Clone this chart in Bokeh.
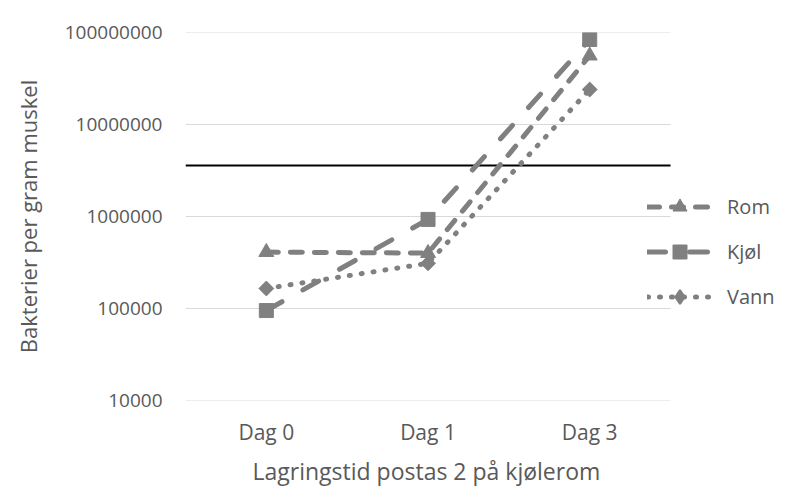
import numpy as np
from bokeh.plotting import figure
from bokeh.models import (Range1d, Legend, LegendItem, FixedTicker,
                          NumeralTickFormatter, Title)
from bokeh.embed import file_html
from bokeh.resources import INLINE

# ---- data ----
categories = ["Dag 0", "Dag 1", "Dag 3"]
rom = [410000, 400000, 56000000]
kjol = [95000, 930000, 84000000]
vann = [165000, 310000, 24000000]
series_names = ["Rom", "Kjøl", "Vann"]
y_ticks = [10000, 100000, 1000000, 10000000, 100000000]
threshold = 3580000
x_title = "Lagringstid postas 2 på kjølerom"
y_title = "Bakterier per gram muskel"

FONT = "Open Sans"
TXT = "#595959"
GREY = "#808080"
GRID = "#d9d9d9"

# category slots: centre of slot i is i + 0.5; extra room on the right for the legend
n = len(categories)
xpos = [i + 0.5 for i in range(n)]
legend_room = 0.711

p = figure(x_range=Range1d(0, n + legend_room),
           y_axis_type="log", y_range=(y_ticks[0], y_ticks[-1]),
           width=792, height=498,
           min_border_left=185, min_border_right=7,
           min_border_top=32, min_border_bottom=98,
           output_backend="svg", toolbar_location=None)
p.outline_line_color = None
p.background_fill_color = "white"
p.border_fill_color = "white"

# grid drawn only across the category area
p.xgrid.grid_line_color = None
p.ygrid.grid_line_color = None
p.segment(x0=[0] * len(y_ticks), x1=[n] * len(y_ticks), y0=y_ticks, y1=y_ticks,
          line_color=GRID, line_width=1)

# y axis
p.yaxis.ticker = FixedTicker(ticks=y_ticks, minor_ticks=[])
p.yaxis.formatter = NumeralTickFormatter(format="0")
p.yaxis.axis_line_color = None
p.yaxis.major_tick_line_color = None
p.yaxis.minor_tick_line_color = None
p.yaxis.major_tick_out = 0
p.yaxis.major_tick_in = 0
p.yaxis.major_label_standoff = 23
p.yaxis.axis_label = y_title
p.yaxis.axis_label_standoff = 19

# x axis
p.xaxis.ticker = FixedTicker(ticks=xpos, minor_ticks=[])
p.xaxis.major_label_overrides = {x: c for x, c in zip(xpos, categories)}
p.xaxis.axis_line_color = None
p.xaxis.major_tick_line_color = None
p.xaxis.minor_tick_line_color = None
p.xaxis.major_tick_out = 0
p.xaxis.major_tick_in = 0
p.xaxis.major_label_standoff = 17

for ax in (p.xaxis, p.yaxis):
    ax.major_label_text_font = FONT
    ax.axis_label_text_font = FONT
    ax.major_label_text_color = TXT
    ax.axis_label_text_color = TXT
    ax.axis_label_text_font_style = "normal"
p.yaxis.major_label_text_font_size = "19px"
p.xaxis.major_label_text_font_size = "21px"
p.yaxis.axis_label_text_font_size = "22px"

# x-axis title, centred under the category area (not under the legend)
p.add_layout(Title(text=x_title, align="left", offset=67, standoff=8,
                   text_font=FONT, text_font_size="23px",
                   text_font_style="normal", text_color=TXT), "below")

# threshold line across the category area
p.segment(x0=[0], x1=[n], y0=[threshold], y1=[threshold],
          line_color="black", line_width=2)

# series: (values, dash, plot marker, legend-swatch marker)
styles = [
    (rom, "12 12", dict(marker="triangle", size=15, angle=0), None),
    (kjol, "18 24", dict(marker="square", size=14, angle=0), None),
    (vann, "1 11", dict(marker="square", size=10.5, angle=np.pi / 4), "diamond"),
]
items = []
for name, (vals, dash, mk, leg_marker) in zip(series_names, styles):
    ln = p.line(xpos, vals, line_color=GREY, line_width=5,
                line_dash=dash, line_cap="round", line_join="round")
    sc = p.scatter(xpos, vals, fill_color=GREY, line_color=GREY, **mk)
    if leg_marker is not None:
        # legend swatches are drawn unrotated, so the legend uses a diamond
        # that sits hidden inside the rotated-square markers on the plot
        sc = p.scatter(xpos, vals, marker=leg_marker, size=12,
                       fill_color=GREY, line_color=GREY, line_width=2)
    items.append(LegendItem(label=name, renderers=[ln, sc]))

legend = Legend(items=items, location=(462, 86),
                glyph_width=65, glyph_height=35, spacing=10,
                label_standoff=15, padding=0, margin=0,
                label_text_font=FONT, label_text_font_size="20px",
                label_text_color=TXT,
                background_fill_alpha=0, border_line_alpha=0)
p.add_layout(legend, "center")

open("out.html", "w").write(file_html(p, INLINE))
